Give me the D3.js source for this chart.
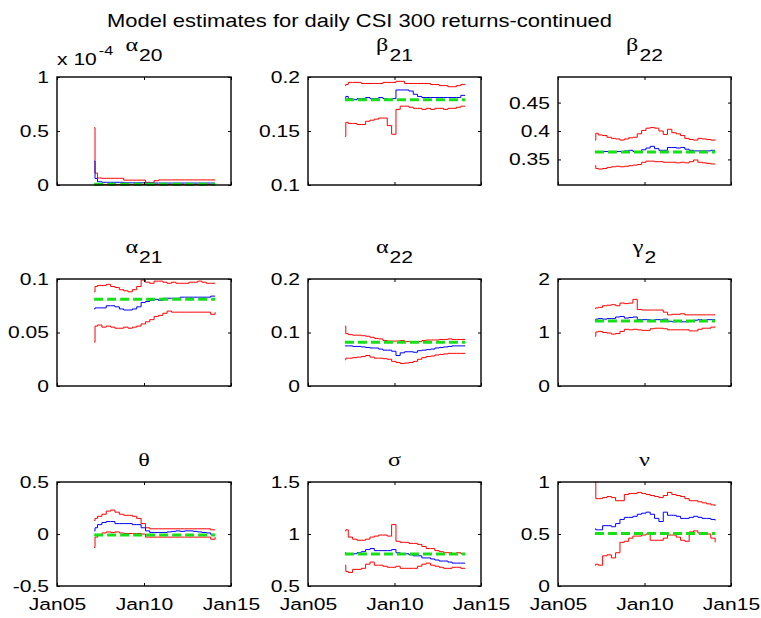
<!DOCTYPE html>
<html><head><meta charset="utf-8">
<script src="https://cdn.jsdelivr.net/npm/d3@7"></script>
<style>body{margin:0;background:#fff} svg{display:block}</style>
</head><body><svg id="c" width="761" height="618"></svg>
<script>
// ---------- data ----------
const dates = ["2007-02-20","2007-03-10","2007-05-01","2007-08-01","2007-11-01","2008-02-01","2008-05-01","2008-08-01","2008-11-01","2009-02-01","2009-05-01","2009-08-01","2009-11-01","2010-02-01","2010-05-01","2010-08-01","2010-11-01","2011-02-01","2011-05-01","2011-08-01","2011-11-01","2012-02-01","2012-05-01","2012-08-01","2012-11-01","2013-02-01","2013-05-01","2013-08-01","2013-11-01","2014-02-01"];
const xTickDates = ["2005-01-01","2010-01-01","2015-01-01"];
const xTickLabels = ["Jan05","Jan10","Jan15"];

// alpha20 values in units of 1e-4
const a20Up  = [0.53,0.11,0.065,0.062,0.062,0.062,0.062,0.062,0.045,0.045,0.045,0.045,0.045,0.025,0.02,0.04,0.047,0.047,0.047,0.047,0.047,0.047,0.047,0.047,0.047,0.047,0.047,0.047,0.047,0.047];
const a20Est = [0.22,0.06,0.03,0.025,0.025,0.025,0.025,0.025,0.02,0.02,0.02,0.02,0.02,0.018,0.018,0.018,0.018,0.018,0.018,0.018,0.018,0.018,0.018,0.018,0.018,0.018,0.018,0.018,0.018,0.018];
const a20Lo  = [0.0,0.004,0.005,0.005,0.005,0.005,0.005,0.005,0.005,0.005,0.005,0.005,0.005,0.005,0.005,0.005,0.005,0.005,0.005,0.005,0.005,0.005,0.005,0.005,0.005,0.005,0.005,0.005,0.005,0.005];

const b21Up  = [0.192,0.193,0.195,0.195,0.195,0.194,0.194,0.194,0.194,0.194,0.195,0.195,0.195,0.196,0.196,0.194,0.194,0.194,0.194,0.194,0.194,0.193,0.193,0.192,0.192,0.191,0.191,0.192,0.193,0.193];
const b21Est = [0.180,0.182,0.180,0.179,0.180,0.180,0.181,0.180,0.180,0.181,0.180,0.179,0.180,0.188,0.188,0.188,0.187,0.184,0.182,0.181,0.181,0.181,0.181,0.181,0.181,0.181,0.181,0.181,0.183,0.183];
const b21Lo  = [0.145,0.158,0.157,0.157,0.156,0.156,0.159,0.160,0.161,0.162,0.162,0.155,0.147,0.170,0.173,0.173,0.172,0.171,0.171,0.170,0.171,0.170,0.171,0.171,0.170,0.171,0.171,0.172,0.173,0.173];

const b22Up  = [0.384,0.396,0.393,0.392,0.389,0.387,0.386,0.384,0.386,0.388,0.389,0.395,0.401,0.405,0.406,0.405,0.400,0.394,0.403,0.397,0.395,0.392,0.387,0.385,0.384,0.387,0.386,0.385,0.384,0.385];
const b22Est = [0.364,0.364,0.364,0.364,0.364,0.364,0.364,0.364,0.365,0.366,0.364,0.364,0.367,0.370,0.373,0.369,0.366,0.366,0.371,0.371,0.370,0.371,0.368,0.366,0.365,0.365,0.365,0.365,0.366,0.366];
const b22Lo  = [0.339,0.334,0.333,0.334,0.336,0.337,0.338,0.337,0.338,0.339,0.340,0.341,0.345,0.347,0.347,0.346,0.346,0.345,0.345,0.345,0.344,0.345,0.344,0.346,0.349,0.345,0.344,0.343,0.342,0.342];

const a21Up  = [0.088,0.093,0.094,0.094,0.095,0.093,0.092,0.090,0.089,0.088,0.090,0.093,0.099,0.097,0.096,0.098,0.098,0.097,0.096,0.097,0.096,0.096,0.096,0.097,0.097,0.098,0.097,0.096,0.096,0.096];
const a21Est = [0.072,0.073,0.073,0.073,0.075,0.075,0.074,0.072,0.071,0.071,0.072,0.074,0.078,0.079,0.080,0.081,0.080,0.082,0.082,0.082,0.082,0.083,0.083,0.083,0.083,0.083,0.083,0.083,0.084,0.084];
const a21Lo  = [0.041,0.056,0.057,0.055,0.056,0.055,0.054,0.054,0.055,0.054,0.055,0.056,0.058,0.060,0.062,0.065,0.066,0.068,0.070,0.069,0.069,0.069,0.069,0.069,0.069,0.069,0.069,0.069,0.067,0.069];

const a22Up  = [0.112,0.098,0.096,0.095,0.095,0.094,0.093,0.091,0.089,0.088,0.085,0.084,0.084,0.084,0.085,0.083,0.083,0.083,0.083,0.085,0.086,0.086,0.086,0.087,0.087,0.088,0.087,0.087,0.087,0.087];
const a22Est = [0.075,0.075,0.075,0.074,0.074,0.073,0.072,0.071,0.071,0.069,0.067,0.067,0.065,0.057,0.062,0.064,0.064,0.063,0.066,0.067,0.068,0.069,0.071,0.072,0.073,0.074,0.075,0.075,0.075,0.075];
const a22Lo  = [0.049,0.052,0.052,0.053,0.054,0.055,0.057,0.054,0.052,0.052,0.051,0.050,0.046,0.044,0.042,0.043,0.044,0.046,0.050,0.053,0.055,0.056,0.058,0.059,0.060,0.061,0.061,0.061,0.061,0.061];

const g2Up   = [1.45,1.46,1.47,1.50,1.51,1.52,1.50,1.55,1.54,1.55,1.62,1.43,1.42,1.42,1.42,1.42,1.42,1.38,1.33,1.34,1.34,1.35,1.33,1.33,1.33,1.33,1.33,1.33,1.33,1.33];
const g2Est  = [1.24,1.25,1.26,1.25,1.26,1.26,1.29,1.30,1.27,1.28,1.29,1.24,1.24,1.24,1.23,1.24,1.24,1.25,1.21,1.20,1.21,1.20,1.20,1.21,1.23,1.24,1.23,1.24,1.24,1.24];
const g2Lo   = [0.93,1.01,1.02,1.00,0.99,0.97,0.98,1.02,1.06,1.05,1.06,1.05,1.04,1.04,1.07,1.08,1.08,1.07,1.05,1.05,1.05,1.05,1.05,1.03,1.03,1.06,1.08,1.08,1.10,1.11];

const thUp   = [0.13,0.15,0.17,0.19,0.22,0.23,0.21,0.19,0.18,0.18,0.17,0.15,0.10,0.06,0.05,0.05,0.05,0.05,0.05,0.05,0.05,0.05,0.05,0.05,0.05,0.05,0.05,0.05,0.04,0.04];
const thEst  = [0.03,0.06,0.09,0.11,0.12,0.12,0.10,0.10,0.10,0.10,0.09,0.09,0.06,0.03,0.015,0.015,0.015,0.015,0.02,0.025,0.03,0.025,0.03,0.03,0.025,0.02,0.015,0.01,-0.005,-0.005];
const thLo   = [-0.13,-0.03,-0.01,0.01,0.02,0.015,0.02,0.01,0.005,0.005,0.005,0.005,0.0,-0.03,-0.03,-0.03,-0.03,-0.03,-0.03,-0.03,-0.03,-0.03,-0.03,-0.03,-0.03,-0.03,-0.03,-0.03,-0.05,-0.03];

const sgUp   = [1.03,1.04,0.97,0.95,0.94,0.94,0.95,0.97,0.98,0.99,0.99,0.98,1.09,0.93,0.92,0.92,0.91,0.91,0.90,0.88,0.86,0.86,0.84,0.83,0.82,0.82,0.81,0.82,0.81,0.81];
const sgEst  = [0.82,0.81,0.81,0.81,0.82,0.83,0.85,0.86,0.84,0.84,0.84,0.84,0.85,0.82,0.81,0.81,0.80,0.79,0.79,0.77,0.77,0.76,0.75,0.74,0.74,0.73,0.72,0.72,0.72,0.72];
const sgLo   = [0.70,0.64,0.63,0.66,0.66,0.67,0.71,0.73,0.70,0.70,0.69,0.68,0.68,0.69,0.67,0.67,0.67,0.67,0.69,0.71,0.72,0.70,0.69,0.68,0.67,0.67,0.68,0.68,0.67,0.67];

const nuUp   = [1.0,0.84,0.84,0.85,0.86,0.85,0.82,0.82,0.88,0.89,0.89,0.90,0.89,0.88,0.87,0.86,0.85,0.87,0.90,0.88,0.87,0.86,0.84,0.82,0.82,0.81,0.80,0.79,0.78,0.77];
const nuEst  = [0.55,0.54,0.54,0.58,0.58,0.57,0.60,0.64,0.66,0.66,0.67,0.69,0.70,0.71,0.69,0.65,0.62,0.71,0.68,0.68,0.67,0.65,0.65,0.66,0.67,0.66,0.65,0.65,0.64,0.63];
const nuLo   = [0.20,0.21,0.20,0.29,0.30,0.27,0.32,0.42,0.43,0.46,0.48,0.48,0.49,0.50,0.44,0.44,0.44,0.46,0.49,0.49,0.47,0.44,0.43,0.52,0.53,0.51,0.50,0.50,0.46,0.42];

const trueVals = [0.008, 0.179, 0.363, 0.081, 0.082, 1.215, -0.01, 0.808, 0.505];
const titleMain = ["α","β","β","α","α","γ","θ","σ","ν"];
const titleSub  = ["20","21","22","21","22","2","","",""];
const yLims = [[0,1],[0.1,0.2],[0.305,0.495],[0,0.1],[0,0.2],[0,2],[-0.5,0.5],[0.5,1.5],[0,1]];
const yTicks = [[0,0.5,1],[0.1,0.15,0.2],[0.35,0.4,0.45],[0,0.05,0.1],[0,0.1,0.2],[0,1,2],[-0.5,0,0.5],[0.5,1,1.5],[0,0.5,1]];
const yTickLabels = [["0","0.5","1"],["0.1","0.15","0.2"],["0.35","0.4","0.45"],["0","0.05","0.1"],["0","0.1","0.2"],["0","1","2"],["-0.5","0","0.5"],["0.5","1","1.5"],["0","0.5","1"]];
const upper = [a20Up,b21Up,b22Up,a21Up,a22Up,g2Up,thUp,sgUp,nuUp];
const est   = [a20Est,b21Est,b22Est,a21Est,a22Est,g2Est,thEst,sgEst,nuEst];
const lower = [a20Lo,b21Lo,b22Lo,a21Lo,a22Lo,g2Lo,thLo,sgLo,nuLo];
const mainTitle = "Model estimates for daily CSI 300 returns-continued";

// ---------- layout ----------
const colX = [57, 308, 558], colW = [174, 173, 173];
const rowY = [77, 279, 482], rowH = [108, 107, 104];
const SX = 1.24;           // horizontal stretch of the text in the reference
const FS = 17;
const SANS = "'Liberation Sans', Arial, Helvetica, sans-serif";
const SERIF = "'Liberation Serif', 'Times New Roman', serif";

const svg = d3.select("#c");
svg.append("rect").attr("width",761).attr("height",618).attr("fill","#fff");
const parse = d3.timeParse("%Y-%m-%d");
const T = dates.map(parse);
const xTicksT = xTickDates.map(parse);

function stretchText(sel){
  sel.each(function(){
    const t = d3.select(this);
    const x = +(t.attr("x")||0);
    t.attr("x", x/SX).attr("transform", `scale(${SX},1)`);
  });
}

// main title
svg.append("text").attr("x",107).attr("y",26.5)
  .attr("font-family",SANS).attr("font-size",17.7).attr("fill","#000")
  .attr("textLength",505).attr("lengthAdjust","spacingAndGlyphs")
  .text(mainTitle);

for (let k=0;k<9;k++){
  const r = Math.floor(k/3), c = k%3;
  const left = colX[c], top = rowY[r], w = colW[c], h = rowH[r];
  const g = svg.append("g").attr("transform",`translate(${left},${top})`);
  const x = d3.scaleTime().domain([xTicksT[0], xTicksT[2]]).range([0,w]);
  const y = d3.scaleLinear().domain(yLims[k]).range([h,0]);

  const line = d3.line().x((d,i)=>x(T[i])).y(d=>y(d)).curve(d3.curveStepAfter);
  g.append("path").datum(upper[k]).attr("d",line).attr("fill","none").attr("stroke","#ff0000").attr("stroke-width",1);
  g.append("path").datum(lower[k]).attr("d",line).attr("fill","none").attr("stroke","#ff0000").attr("stroke-width",1);
  g.append("path").datum(est[k]).attr("d",line).attr("fill","none").attr("stroke","#0000ff").attr("stroke-width",1);
  const tv = [trueVals[k], trueVals[k]];
  const gline = d3.line().x((d,i)=>x(i===0?T[0]:T[T.length-1])).y(d=>y(d));
  g.append("path").datum(tv).attr("d",gline).attr("fill","none").attr("stroke","#16e016")
    .attr("stroke-width",3).attr("stroke-dasharray","9,4");

  // axes (ticks inside, mirrored)
  const ax = (axis, tr) => {
    const a = g.append("g").attr("transform",tr).call(axis);
    a.select(".domain").remove();
    a.selectAll(".tick line").attr("stroke","#000").attr("stroke-width",1);
    a.selectAll("text").attr("font-family",SANS).attr("font-size",FS).attr("fill","#000");
    return a;
  };
  const yl = ax(d3.axisLeft(y).tickValues(yTicks[k]).tickSize(-3).tickPadding(8)
    .tickFormat((d,i)=>yTickLabels[k][i]), "translate(0,0)");
  stretchText(yl.selectAll(".tick text"));
  ax(d3.axisRight(y).tickValues(yTicks[k]).tickSize(-3).tickFormat(""), `translate(${w},0)`);
  ax(d3.axisTop(x).tickValues(xTicksT).tickSize(-3).tickFormat(""), "translate(0,0)");
  const xb = ax(d3.axisBottom(x).tickValues(xTicksT).tickSize(-3).tickPadding(12)
    .tickFormat((d,i)=> r===2 ? xTickLabels[i] : ""), `translate(0,${h})`);
  stretchText(xb.selectAll(".tick text"));

  g.append("rect").attr("width",w).attr("height",h).attr("fill","none")
    .attr("stroke","#000").attr("stroke-width",1.4);

  // subplot title
  const tg = g.append("g");
  const base = -16;
  const hasSub = titleSub[k] !== "";
  const m = tg.append("text").attr("font-family",SERIF).attr("font-size",19.5).attr("fill","#000")
    .text(titleMain[k]);
  const mw = m.node().getComputedTextLength()*SX;
  let sw = 0, s = null;
  if (hasSub){
    s = tg.append("text").attr("font-family",SANS).attr("font-size",FS).attr("fill","#000")
      .text(titleSub[k]);
    sw = s.node().getComputedTextLength()*SX;
  }
  const total = mw + (hasSub?1+sw:0);
  const x0 = w/2 - total/2;
  m.attr("transform",`translate(${x0},${hasSub?base-10:base}) scale(${SX},1)`);
  if (s) s.attr("transform",`translate(${x0+mw+1},${base}) scale(${SX},1)`);

  if (k===0){
    const e = g.append("text").attr("font-family",SANS).attr("font-size",FS).attr("fill","#000")
      .attr("transform",`translate(0,-12) scale(${SX},1)`).text("x 10");
    const ew = e.node().getComputedTextLength()*SX;
    g.append("text").attr("font-family",SANS).attr("font-size",13).attr("fill","#000")
      .attr("transform",`translate(${ew+2},-22) scale(${SX},1)`).text("-4");
  }
}
</script></body></html>
